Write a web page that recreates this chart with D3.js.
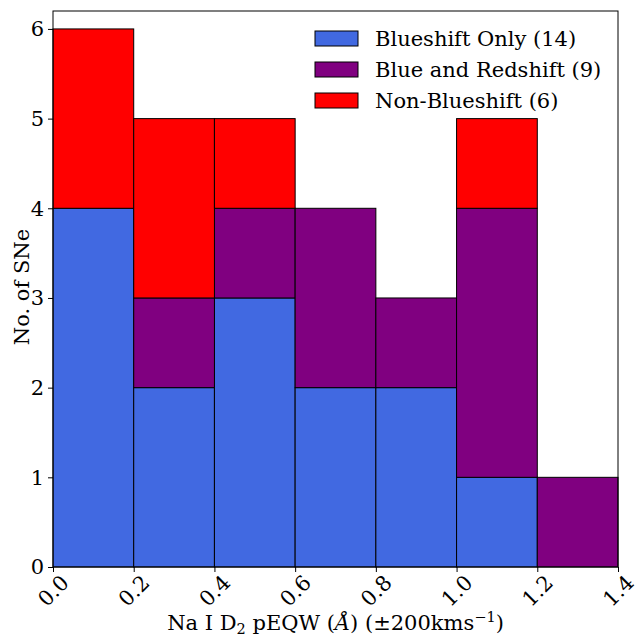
<!DOCTYPE html>
<html>
<head>
<meta charset="utf-8">
<script src="https://cdn.jsdelivr.net/npm/d3@7"></script>
<style>
  body { margin: 0; background: #fff; }
  svg { font-family: "DejaVu Serif", serif; }
</style>
</head>
<body>
<svg id="chart" width="635" height="637"></svg>
<script>
// Histogram bin edges of Na I D2 pEQW (Å)
const binEdges = [0.0, 0.2, 0.4, 0.6, 0.8, 1.0, 1.2, 1.4];
// Counts per bin for each group (stacked in this order)
const blueshiftOnly = [4, 2, 3, 2, 2, 1, 0];
const blueAndRed    = [0, 1, 1, 2, 1, 3, 1];
const nonBlueshift  = [2, 2, 1, 0, 0, 1, 0];
const seriesNames = ["Blueshift Only (14)", "Blue and Redshift (9)", "Non-Blueshift (6)"];
const seriesColors = ["#4169e1", "#800080", "#ff0000"];
const xTicks = [0.0, 0.2, 0.4, 0.6, 0.8, 1.0, 1.2, 1.4];
const yTicks = [0, 1, 2, 3, 4, 5, 6];

const svg = d3.select("#chart");
const margin = { left: 53, right: 17, top: 11, bottom: 70 };
const W = 635, H = 637;
const FS = 21;
const x = d3.scaleLinear().domain([0, 1.4]).range([margin.left, W - margin.right]);
const y = d3.scaleLinear().domain([0, 6.2]).range([H - margin.bottom, margin.top]);

// Build stacked rows
const rows = blueshiftOnly.map((_, i) => ({
  x0: binEdges[i], x1: binEdges[i + 1],
  s0: blueshiftOnly[i], s1: blueAndRed[i], s2: nonBlueshift[i]
}));
const stack = d3.stack().keys(["s0", "s1", "s2"])(rows);

stack.forEach((layer, k) => {
  svg.append("g").selectAll("rect")
    .data(layer.filter(d => d[1] - d[0] > 0))
    .join("rect")
    .attr("x", d => x(d.data.x0))
    .attr("width", d => x(d.data.x1) - x(d.data.x0))
    .attr("y", d => y(d[1]))
    .attr("height", d => y(d[0]) - y(d[1]))
    .attr("fill", seriesColors[k])
    .attr("stroke", "#000")
    .attr("stroke-width", 1);
});

// Frame
svg.append("rect")
  .attr("x", margin.left).attr("y", margin.top)
  .attr("width", W - margin.left - margin.right)
  .attr("height", H - margin.top - margin.bottom)
  .attr("fill", "none").attr("stroke", "#000").attr("stroke-width", 1);

// Y axis
const yAxis = svg.append("g")
  .attr("transform", `translate(${margin.left},0)`)
  .call(d3.axisLeft(y).tickValues(yTicks).tickFormat(d3.format("d")).tickSize(5).tickPadding(4));
yAxis.select(".domain").remove();
yAxis.selectAll("text").attr("font-size", FS).attr("font-family", "DejaVu Serif").attr("fill", "#000");

// X axis with rotated labels
const xAxis = svg.append("g")
  .attr("transform", `translate(0,${H - margin.bottom})`)
  .call(d3.axisBottom(x).tickValues(xTicks).tickFormat(d3.format(".1f")).tickSize(5));
xAxis.select(".domain").remove();
xAxis.selectAll("text")
  .attr("font-size", FS).attr("font-family", "DejaVu Serif").attr("fill", "#000")
  .attr("text-anchor", "middle")
  .attr("dy", null)
  .attr("dominant-baseline", "central")
  .attr("y", null)
  .attr("transform", "translate(0,24) rotate(-45)");

// Axis titles
svg.append("text")
  .attr("transform", `translate(22,${(margin.top + H - margin.bottom) / 2 - 2}) rotate(-90)`)
  .attr("text-anchor", "middle").attr("dominant-baseline", "central")
  .attr("font-size", FS).text("No. of SNe");

const xl = svg.append("text")
  .attr("x", (margin.left + W - margin.right) / 2).attr("y", 630)
  .attr("text-anchor", "middle").attr("font-size", FS);
xl.append("tspan").text("Na I D");
xl.append("tspan").attr("font-size", 14.5).attr("dy", 3.5).text("2");
xl.append("tspan").attr("dy", -3.5).text(" pEQW (");
xl.append("tspan").attr("font-style", "italic").text("Å");
xl.append("tspan").text(") (±200kms");
xl.append("tspan").attr("font-size", 14.5).attr("dy", -8).text("−1");
xl.append("tspan").attr("dy", 8).text(")");

// Legend
const legend = svg.append("g").attr("transform", "translate(315,31)");
seriesNames.forEach((name, i) => {
  const g = legend.append("g").attr("transform", `translate(0,${i * 31})`);
  g.append("rect").attr("x", 0).attr("y", 0).attr("width", 43).attr("height", 15)
    .attr("fill", seriesColors[i]).attr("stroke", "#000").attr("stroke-width", 1);
  g.append("text").attr("x", 60).attr("y", 8).attr("dominant-baseline", "central")
    .attr("font-size", FS).text(name);
});
</script>
</body>
</html>
